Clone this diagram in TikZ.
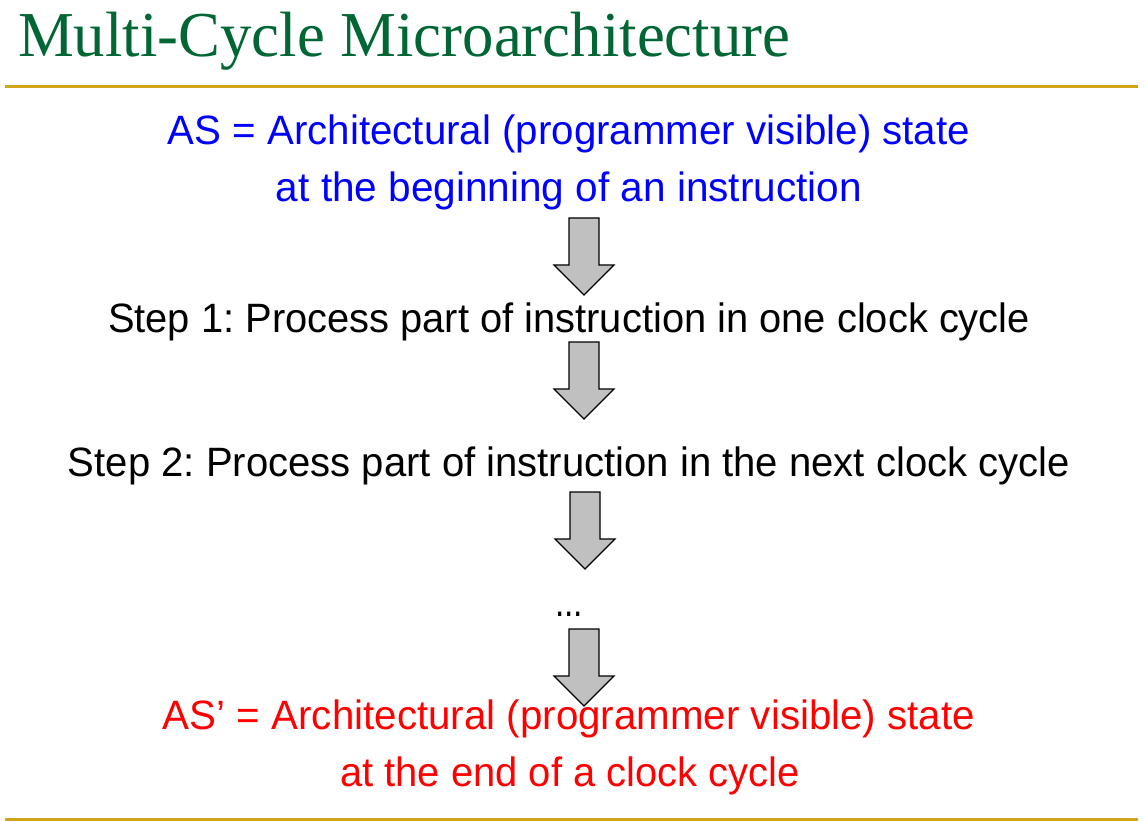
\documentclass[tikz,border=0pt]{standalone}
\usepackage{fontspec}
\usepackage{graphicx}
\setmainfont{Liberation Serif}
\setsansfont{Liberation Sans}
\frenchspacing
\definecolor{titlegreen}{HTML}{006633}
\definecolor{rulegold}{HTML}{D4A418}
\definecolor{arrowgray}{HTML}{C0C0C0}
\definecolor{asblue}{HTML}{0000FF}
\definecolor{asred}{HTML}{FF0000}
\newcommand\fitw[2]{\resizebox{#1}{\height}{#2}}
\tikzset{
  txt/.style={anchor=base, inner sep=0pt, font=\sffamily\fontsize{41}{41}\selectfont},
  titletxt/.style={anchor=base west, inner sep=0pt, text=titlegreen, font=\rmfamily\fontsize{64}{64}\selectfont},
  rulerline/.style={draw=rulegold, line width=3pt},
  blockarrow/.style={draw=black, fill=arrowgray, line width=1.1pt, line join=miter},
  pics/downarrow/.style={code={
    \path[blockarrow] (-15,0) -- (15,0) -- (15,47) -- (30,47) -- (0,77) -- (-30,47) -- (-15,47) -- cycle;
  }}
}
\begin{document}
\begin{tikzpicture}[x=1pt,y=-1pt]
\useasboundingbox[fill=white] (0,0) rectangle (1144,821);
\node[titletxt] (title) at (18,57) {\fitw{772pt}{Multi-Cycle Microarchitecture}};
\draw[rulerline] (5,87) -- (1138,87);
\node[txt,text=asblue] (as1) at (569,145) {\fitw{802pt}{AS = Architectural (programmer visible) state}};
\node[txt,text=asblue] (as2) at (569,202) {\fitw{586pt}{at the beginning of an instruction}};
\node[txt] (s1) at (569,333) {\fitw{922pt}{Step 1: Process part of instruction in one clock cycle}};
\node[txt] (s2) at (569,476) {\fitw{1002pt}{Step 2: Process part of instruction in the next clock cycle}};
\node[txt] (dots) at (569,616) {\fitw{28pt}{...}};
\node[txt,text=asred] (asp1) at (569,729) {\fitw{812pt}{AS’ = Architectural (programmer visible) state}};
\node[txt,text=asred] (asp2) at (570,786) {\fitw{460pt}{at the end of a clock cycle}};
\pic at (584,218) {downarrow};
\pic at (584,342) {downarrow};
\pic at (585,492) {downarrow};
\pic at (584,629) {downarrow};
\draw[rulerline] (5,819) -- (1138,819);
\end{tikzpicture}
\end{document}
